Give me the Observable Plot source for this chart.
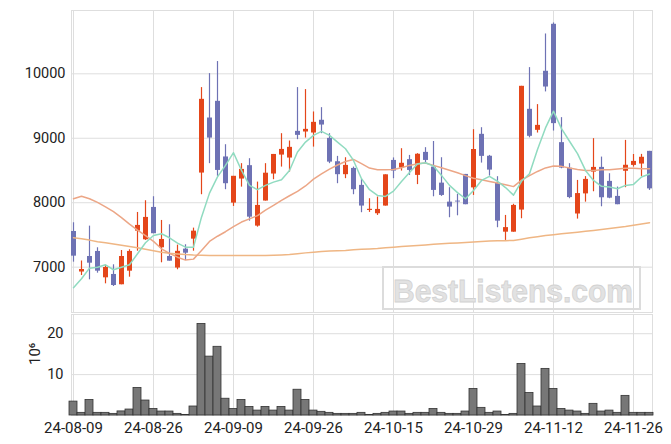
<!DOCTYPE html>
<html><head><meta charset="utf-8">
<script src="https://cdn.jsdelivr.net/npm/d3@7"></script>
<script src="https://cdn.jsdelivr.net/npm/@observablehq/plot@0.6"></script>
<style>
body{margin:0;background:#fff;}
#chart{position:relative;width:671px;height:444px;font-family:Roboto,sans-serif;}
#chart > svg{display:block;}
#wm{position:absolute;left:382px;top:266px;width:259px;height:44px;box-sizing:border-box;border:2px solid #dcdcdc;}
#wm svg{position:absolute;left:0;top:-4px;overflow:visible;}
</style></head><body>
<div id="chart"><div id="wm"><svg width="255" height="48"><text x="9" y="38" textLength="240" lengthAdjust="spacingAndGlyphs" font-family="Liberation Sans, Arial, sans-serif" font-weight="bold" font-size="32" fill="#e2e2e2" stroke="#d2d2d2" stroke-width="0.8">BestListens.com</text></svg></div></div>
<script>
const dates = ["24-08-09","24-08-12","24-08-13","24-08-14","24-08-16","24-08-19","24-08-20","24-08-21","24-08-22","24-08-23",
"24-08-26","24-08-27","24-08-28","24-08-29","24-08-30","24-09-02","24-09-03","24-09-04","24-09-05","24-09-06",
"24-09-09","24-09-10","24-09-11","24-09-12","24-09-13","24-09-19","24-09-20","24-09-23","24-09-24","24-09-25",
"24-09-26","24-09-27","24-09-30","24-10-02","24-10-04","24-10-07","24-10-08","24-10-10","24-10-11","24-10-14",
"24-10-15","24-10-16","24-10-17","24-10-18","24-10-21","24-10-22","24-10-23","24-10-24","24-10-25","24-10-28",
"24-10-29","24-10-30","24-10-31","24-11-01","24-11-04","24-11-05","24-11-06","24-11-07","24-11-08","24-11-11",
"24-11-12","24-11-13","24-11-14","24-11-15","24-11-18","24-11-19","24-11-20","24-11-21","24-11-22","24-11-25",
"24-11-26","24-11-27","24-11-28"];

const open = [7554,6925,7166,7244,6835,6887,6727,6938,7559,7425,
7927,7301,7166,6987,7280,7435,8460,9314,9573,8710,
7994,8367,8575,7637,8026,8445,8739,8693,9107,9097,
9081,9279,8998,8636,8435,8532,8269,7880,7829,7948,
8656,8537,8668,8424,8781,8553,8304,8009,8025,8439,
8230,9061,8721,8304,7543,7543,7886,9449,9123,10039,
10768,8932,8535,7825,8137,8475,8548,8331,8098,8488,
8579,8600,8797];
const high = [7689,7096,7637,7301,7026,7037,7259,7270,7849,8031,
8093,7725,7658,7342,7348,7606,9786,10003,10190,8900,
8408,8606,8683,8320,8606,8749,9071,8957,9786,9755,
9408,9475,9071,8719,8698,8553,8362,8062,8088,8433,
8695,8838,8734,8761,8854,8950,8698,8233,8132,8439,
9133,9164,8734,8404,7803,7976,9806,10096,9522,10618,
10789,9320,8606,8346,8405,8994,8708,8450,8243,8967,
8748,8750,8797];
const low = [7078,6871,6804,6907,6742,6700,6727,6845,7248,7415,
7519,7068,7093,6960,7104,7248,8124,8606,8410,8202,
7942,8242,7714,7621,8026,8357,8553,8475,8978,9003,
8863,9071,8606,8295,8373,8124,7845,7850,7803,7948,
8373,8491,8424,8281,8606,8092,8098,7767,7797,7969,
8113,8615,8413,7612,7415,7543,7751,9007,9081,9719,
9112,8527,8062,7746,8009,8170,7937,8062,7969,8233,
8553,8408,8191];
const close = [7171,6964,7062,6938,6995,6716,7166,7244,7648,7772,
7519,7430,7093,7246,7217,7559,9604,9003,8501,8295,
8410,8517,7776,7958,8458,8749,8827,8859,9045,9138,
9247,9205,8630,8435,8579,8202,7948,7898,7896,8433,
8491,8612,8501,8752,8656,8191,8113,7932,8011,7969,
8826,8719,8506,7714,7614,7958,9806,9030,9200,9795,
9227,8537,8080,8142,8362,8548,8077,8071,7969,8581,
8641,8705,8215];

const ma5 = [6680,6820,6985,7000,7037,6960,7000,7037,7208,7379,
7492,7519,7456,7373,7311,7311,7776,8149,8400,8579,
8776,8501,8269,8202,8269,8320,8357,8501,8786,8941,
9045,9107,9045,8941,8838,8656,8373,8202,8113,8098,
8180,8330,8470,8600,8621,8568,8424,8269,8157,8062,
8191,8346,8410,8333,8235,8118,8333,8450,8825,9160,
9420,9150,8954,8761,8501,8346,8255,8243,8217,8269,
8284,8398,8445];
const ma20 = [8062,8100,8062,8005,7937,7862,7770,7668,7575,7490,
7400,7285,7215,7155,7110,7125,7259,7400,7480,7550,
7630,7700,7750,7800,7885,7958,8035,8108,8175,8260,
8365,8447,8520,8585,8640,8672,8606,8537,8512,8512,
8517,8543,8579,8606,8615,8579,8543,8505,8465,8420,
8380,8355,8330,8305,8280,8250,8350,8420,8485,8540,
8569,8564,8537,8517,8501,8501,8512,8512,8522,8533,
8533,8528,8528];
const ma60 = [7456,7440,7420,7394,7378,7360,7340,7321,7300,7278,
7256,7233,7215,7205,7195,7188,7185,7183,7182,7182,
7182,7181,7180,7180,7181,7185,7190,7197,7210,7222,
7233,7244,7252,7256,7260,7270,7278,7284,7290,7300,
7310,7320,7329,7337,7345,7354,7363,7370,7377,7384,
7391,7399,7407,7410,7412,7415,7435,7455,7472,7490,
7505,7518,7530,7543,7556,7570,7585,7600,7617,7632,
7650,7670,7690];
// volume, millions of shares
const volume = [3.4,0.65,3.8,0.65,0.65,0.4,1.0,1.46,6.75,3.66,
1.6,0.97,0.97,0.4,0.15,2.2,22.4,14.4,16.8,4.1,
1.6,3.8,2.1,1.2,2.1,1.2,2.1,1.2,6.3,3.8,
1.2,0.9,0.65,0.4,0.4,0.4,0.65,0.15,0.4,0.65,
0.97,0.97,0.4,0.65,0.65,1.6,0.65,0.4,0.4,0.97,
6.5,1.87,0.65,0.97,0.15,0.4,12.6,5.5,2.2,11.4,
6.5,1.6,1.2,0.97,0.4,2.85,0.97,1.2,0.65,4.8,
0.65,0.65,0.65];

const priceTicks = [7000,8000,9000,10000];
const volTicks = [10,20];
const labelEvery = 10;

const UP = "#e4461a", DOWN = "#6e72b4";
const data = dates.map((d,i)=>({i, date:d, open:open[i], high:high[i], low:low[i], close:close[i],
  ma5:ma5[i], ma20:ma20[i], ma60:ma60[i], vol:volume[i]}));
const ups = data.filter(d=>d.close>=d.open);
const downs = data.filter(d=>d.close<d.open);
const tickIdx = d3.range(0, dates.length, labelEvery);

const W = 671, ML = 71, MR = 19;
const xDomain = [-0.25, dates.length - 1 + 0.375];
const gridC = "#dedede";
const style = {fontFamily:"Roboto, sans-serif", fontSize:"14px", color:"#222", background:"transparent", overflow:"visible"};

const price = Plot.plot({
  width:W, height:313, marginLeft:ML, marginRight:MR, marginTop:10, marginBottom:1,
  style,
  x:{domain:xDomain, axis:null},
  y:{domain:[6297,10982], axis:null},
  marks:[
    Plot.gridX(tickIdx,{stroke:gridC, strokeOpacity:1}),
    Plot.gridY(priceTicks,{stroke:gridC, strokeOpacity:1}),
    Plot.frame({stroke:gridC}),
    Plot.axisY(priceTicks,{tickSize:0, tickPadding:6, label:null, fill:"#222", fontSize:14.5, tickFormat:d=>String(d)}),
    Plot.ruleX(ups,{x:"i", y1:"low", y2:"high", stroke:UP, strokeWidth:1.2}),
    Plot.ruleX(downs,{x:"i", y1:"low", y2:"high", stroke:DOWN, strokeWidth:1.2}),
    Plot.ruleX(ups,{x:"i", y1:"open", y2:"close", stroke:UP, strokeWidth:5}),
    Plot.ruleX(downs,{x:"i", y1:"open", y2:"close", stroke:DOWN, strokeWidth:5}),
    Plot.line(data,{x:"i", y:"ma60", stroke:"#efb684", strokeWidth:1.5}),
    Plot.line(data,{x:"i", y:"ma20", stroke:"#eca686", strokeWidth:1.5}),
    Plot.line(data,{x:"i", y:"ma5", stroke:"#90dbc0", strokeWidth:1.5})
  ]
});

const vol = Plot.plot({
  width:W, height:131, marginLeft:ML, marginRight:MR, marginTop:1, marginBottom:29,
  style,
  x:{domain:xDomain, axis:null},
  y:{domain:[0,24.7], axis:null},
  marks:[
    Plot.gridX(tickIdx,{stroke:gridC, strokeOpacity:1}),
    Plot.gridY(volTicks,{stroke:gridC, strokeOpacity:1}),
    Plot.frame({stroke:gridC}),
    Plot.rect(data,{x1:d=>d.i-0.5, x2:d=>d.i+0.5, y1:0, y2:"vol", fill:"#777", stroke:"#333", strokeWidth:0.8}),
    Plot.axisY(volTicks,{tickSize:0, tickPadding:8, label:null, fill:"#222", fontSize:14.5}),
    Plot.axisX(tickIdx,{tickSize:0, tickPadding:7, label:null, tickFormat:i=>dates[i], fill:"#222", fontSize:15}),
    Plot.text(["10⁶"],{frameAnchor:"left", dx:-36, rotate:-90, fontSize:15, fill:"#222"})
  ]
});

const chart = document.getElementById("chart");
chart.insertBefore(vol, chart.firstChild);
chart.insertBefore(price, vol);
</script>
</body></html>
